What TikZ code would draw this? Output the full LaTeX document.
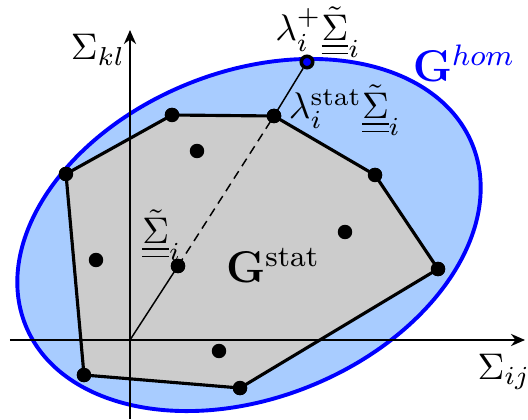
\documentclass[tikz,border=0pt]{standalone}
\usepackage{amsmath,amssymb}
\usepackage{xcolor}
\usepackage{tikz}
\usetikzlibrary{
  arrows.meta
}
\definecolor{homblue}{RGB}{0,0,255}
\definecolor{homfill}{RGB}{168,204,255}
\definecolor{statgray}{RGB}{204,204,204}
\tikzset{
  axis/.style={-{Stealth[length=3.8pt,width=3.3pt]},line width=0.4pt,draw=black},
  hom/.style={draw=homblue,line width=1.05pt,fill=homfill},
  stat/.style={draw=black,line width=0.85pt,fill=statgray,line join=round},
  pt/.style={circle,fill=black,inner sep=0pt,minimum size=3.9pt},
  edgept/.style={circle,draw=black,fill=homblue,line width=0.95pt,
    inner sep=0pt,minimum size=3.1pt},
  ray/.style={draw=black,line width=0.4pt},
  lab/.style={inner sep=1pt},
  biglab/.style={inner sep=1pt,font=\large}
}
\newcommand{\Sig}{\underline{\underline{\tilde{\Sigma}}}}

\begin{document}
\begin{tikzpicture}[x=0.27pt,y=0.27pt]
  \useasboundingbox (-130,-79) rectangle (398,340);
  % homogenised domain
  \draw[hom] (119,105) ellipse [x radius=241,y radius=163,rotate=22];
  % vertices of the statistical domain
  \node[pt] (v1) at (42,225) {};
  \node[pt] (v2) at (144,224) {};
  \node[pt] (v3) at (245,165) {};
  \node[pt] (v4) at (308,71) {};
  \node[pt] (v5) at (110,-48) {};
  \node[pt] (v6) at (-46,-35) {};
  \node[pt] (v7) at (-64,166) {};
  \filldraw[stat] (v1.center)--(v2.center)--(v3.center)--(v4.center)
    --(v5.center)--(v6.center)--(v7.center)--cycle;
  % axes
  \coordinate (o) at (0,0);
  \draw[axis] (-120,0)--(395,0);
  \draw[axis] (0,-79)--(0,310);
  % inner points
  \node[pt] (a1) at (67,189) {};
  \node[pt] (a2) at (-34,80) {};
  \node[pt] (a3) at (215,108) {};
  \node[pt] (a4) at (89,-11) {};
  \foreach \v in {v1,v2,v3,v4,v5,v6,v7}
    \node[pt] at (\v) {};
  % loading path
  \node[pt] (s) at (48,74) {};
  \node[edgept] (sp) at (177,278) {};
  \draw[ray] (o)--(s.center);
  \draw[ray,dash pattern=on 2.4pt off 1.6pt] (s.center)--(v2.center);
  \draw[ray] (v2.center)--(sp);
  \node[pt] at (s) {};
  \node[pt] at (v2) {};
  % labels
  \node[lab] (skl) at (-32,290) {$\Sigma_{kl}$};
  \node[lab] (sij) at (374,-32) {$\Sigma_{ij}$};
  \node[lab] (lplus) at (188,308) {$\lambda_i^{+}\Sig_i$};
  \node[lab] (lstat) at (215,230) {$\lambda_i^{\text{stat}}\Sig_i$};
  \node[lab] (sig) at (32,105) {$\Sig_i$};
  \node[biglab] (gstat) at (143,75) {$\mathbf{G}^{\text{stat}}$};
  \node[biglab,text=homblue] (ghom) at (334,277) {$\mathbf{G}^{hom}$};
\end{tikzpicture}
\end{document}
